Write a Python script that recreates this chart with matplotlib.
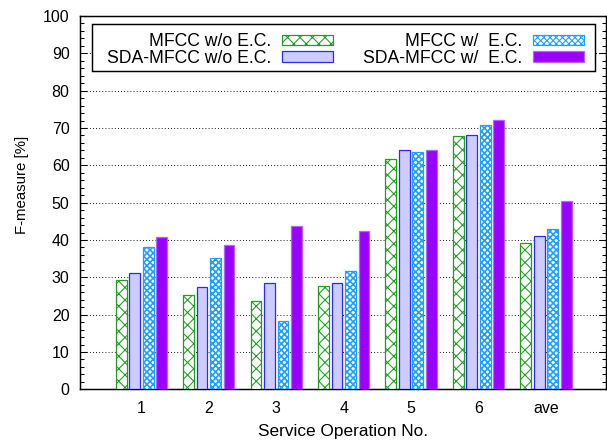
import matplotlib
matplotlib.use('Agg')
import matplotlib.pyplot as plt
from matplotlib.patches import Rectangle
from matplotlib.ticker import MultipleLocator
import numpy as np

matplotlib.rcParams['font.family'] = ['Liberation Sans', 'DejaVu Sans']
matplotlib.rcParams['font.size'] = 7.7
matplotlib.rcParams['hatch.linewidth'] = 0.5

# data
groups = ['1', '2', '3', '4', '5', '6', 'ave']
series = ['MFCC w/o E.C.', 'SDA-MFCC w/o E.C.', 'MFCC w/  E.C.', 'SDA-MFCC w/  E.C.']
mfcc_wo = [29.2, 25.3, 23.6, 27.6, 61.6, 67.9, 39.1]
sda_wo = [31.1, 27.5, 28.4, 28.4, 64.0, 68.0, 41.2]
mfcc_w = [38.0, 35.1, 18.2, 31.8, 63.5, 70.7, 42.9]
sda_w = [40.8, 38.7, 43.7, 42.5, 64.0, 72.1, 50.4]

# styles
styles = [
    dict(facecolor='white', edgecolor='#1f9e1f', hatch='xxxx'),
    dict(facecolor='#ccccff', edgecolor='#2a2aff', hatch=None),
    dict(facecolor='white', edgecolor='#1ea0ff', hatch='xxxxxxxx'),
    dict(facecolor='#9900ff', edgecolor='#b566ff', hatch=None),
]
hatch_lw = [0.5, 0.5, 0.8, 0.5]

fig = plt.figure(figsize=(607 / 150, 441 / 150), dpi=150)
ax = fig.add_axes([80 / 607, 1 - 389.3 / 441, 526 / 607, 373.3 / 441])

x = np.arange(1, len(groups) + 1)
offsets = [-0.3, -0.1, 0.1, 0.3]
width = 0.16
bars = []
for k, vals in enumerate([mfcc_wo, sda_wo, mfcc_w, sda_w]):
    with matplotlib.rc_context({'hatch.linewidth': hatch_lw[k]}):
        b = ax.bar(x + offsets[k], vals, width, label=series[k], linewidth=0.6,
                   zorder=3, **styles[k])
    for p in b:
        if hasattr(p, 'set_hatch_linewidth'):
            p.set_hatch_linewidth(hatch_lw[k])
    bars.append(b)

ax.set_xlim(0.09, 7.89)
ax.set_ylim(0, 100)
ax.set_xticks(x)
ax.set_xticklabels(groups)
ax.yaxis.set_major_locator(MultipleLocator(10))
ax.yaxis.set_minor_locator(MultipleLocator(2))
ax.tick_params(axis='y', which='both', direction='in', left=True, right=True, width=0.5)
ax.tick_params(axis='y', which='major', length=3.5, pad=5)
ax.tick_params(axis='y', which='minor', length=1.8)
ax.tick_params(axis='x', length=0, pad=5.5)

ax.grid(axis='y', color='black', linestyle=(0, (0.8, 2.2)), linewidth=0.5, zorder=0)
for s in ax.spines.values():
    s.set_linewidth(0.7)

ax.set_ylabel('F-measure [%]', va='center', fontsize=7.2)
ax.yaxis.set_label_coords(-0.111, 0.548)
ax.set_xlabel('Service Operation No.', va='center', fontsize=8.3)
ax.xaxis.set_label_coords(0.5, -0.114)

# legend box (gnuplot style, drawn separately so the padding can differ)
ax.add_patch(Rectangle((0.0234, 0.8535), 0.9563, 0.1251, transform=ax.transAxes,
                       facecolor='white', edgecolor='black', linewidth=0.7,
                       zorder=4, clip_on=False))
leg = ax.legend(bars, series, ncol=2, markerfirst=False,
                loc='upper left', bbox_to_anchor=(0.0519, 0.9535),
                fontsize=8.45, handlelength=2.87, handleheight=0.53, handletextpad=0.6,
                columnspacing=1.74, labelspacing=-0.04, borderpad=0, borderaxespad=0,
                frameon=False)
leg.set_zorder(5)

fig.savefig('out.png', dpi=150)
